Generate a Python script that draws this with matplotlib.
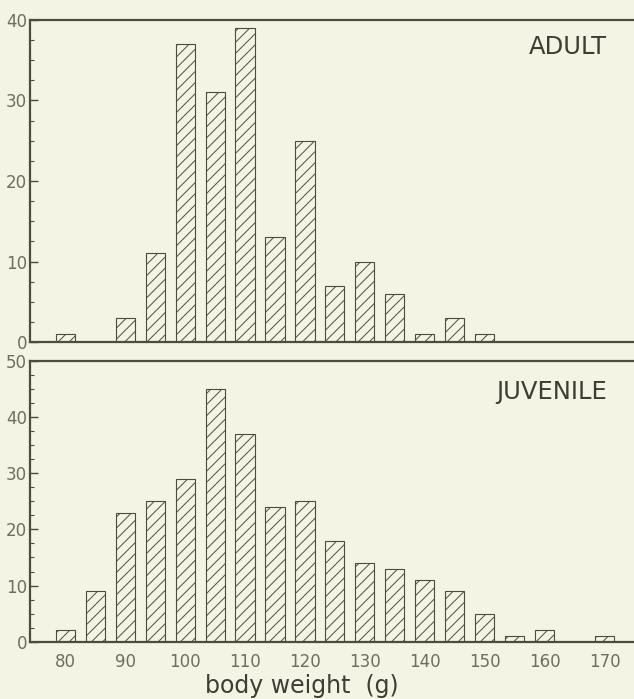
import matplotlib
matplotlib.use("Agg")
import matplotlib.pyplot as plt
from matplotlib.ticker import MultipleLocator

weights_adult = [80, 85, 90, 95, 100, 105, 110, 115, 120, 125, 130, 135, 140, 145, 150]
counts_adult = [1, 0, 3, 11, 37, 31, 39, 13, 25, 7, 10, 6, 1, 3, 1]

weights_juv = [80, 85, 90, 95, 100, 105, 110, 115, 120, 125, 130, 135, 140, 145, 150,
               155, 160, 165, 170]
counts_juv = [2, 9, 23, 25, 29, 45, 37, 24, 25, 18, 14, 13, 11, 9, 5, 1, 2, 0, 1]

x_ticks = [80, 90, 100, 110, 120, 130, 140, 150, 160, 170]

bg = "#f3f4e3"
ink = "#4e4b40"
txt = "#6e6d62"

plt.rcParams["hatch.color"] = ink
plt.rcParams["hatch.linewidth"] = 0.7
plt.rcParams["font.family"] = "DejaVu Sans"

fig = plt.figure(figsize=(6.34, 6.99), dpi=100, facecolor=bg)
ax_top = fig.add_axes([0.0473, 0.5107, 0.96, 0.4607])
ax_bot = fig.add_axes([0.0473, 0.082, 0.96, 0.4015])


def draw_panel(ax, weights, counts, ymax, label, label_y):
    ax.set_facecolor(bg)
    ax.bar(weights, counts, width=3.2, facecolor=bg, edgecolor=ink,
           linewidth=0.8, hatch="///")
    ax.set_xlim(74.1, 175.7)
    ax.set_ylim(0, ymax)
    ax.yaxis.set_major_locator(MultipleLocator(10))
    ax.yaxis.set_minor_locator(MultipleLocator(2.5))
    ax.tick_params(axis="y", which="major", direction="in", length=6,
                   width=1, color=ink, labelsize=12, labelcolor=txt, pad=2)
    ax.tick_params(axis="y", which="minor", direction="in", length=3,
                   width=0.8, color=ink)
    ax.tick_params(axis="x", length=0, labelsize=12, labelcolor=txt, pad=8)
    for side in ["left", "top", "bottom"]:
        ax.spines[side].set_color(ink)
        ax.spines[side].set_linewidth(1.6)
    ax.spines["right"].set_visible(False)
    ax.text(0.948, label_y, label, transform=ax.transAxes, ha="right", va="center",
            fontsize=17.5, color="#3e3c34")


draw_panel(ax_top, weights_adult, counts_adult, 40, "ADULT", 0.916)
draw_panel(ax_bot, weights_juv, counts_juv, 50, "JUVENILE", 0.89)

ax_top.set_xticks([])
ax_bot.set_xticks(x_ticks)
ax_bot.set_xticklabels([str(t) for t in x_ticks])
ax_bot.set_xlabel("body weight  (g)", fontsize=17, color="#3e3c34")
ax_bot.xaxis.set_label_coords(0.447, -0.115)

fig.savefig("out.png", dpi=100, facecolor=bg)
